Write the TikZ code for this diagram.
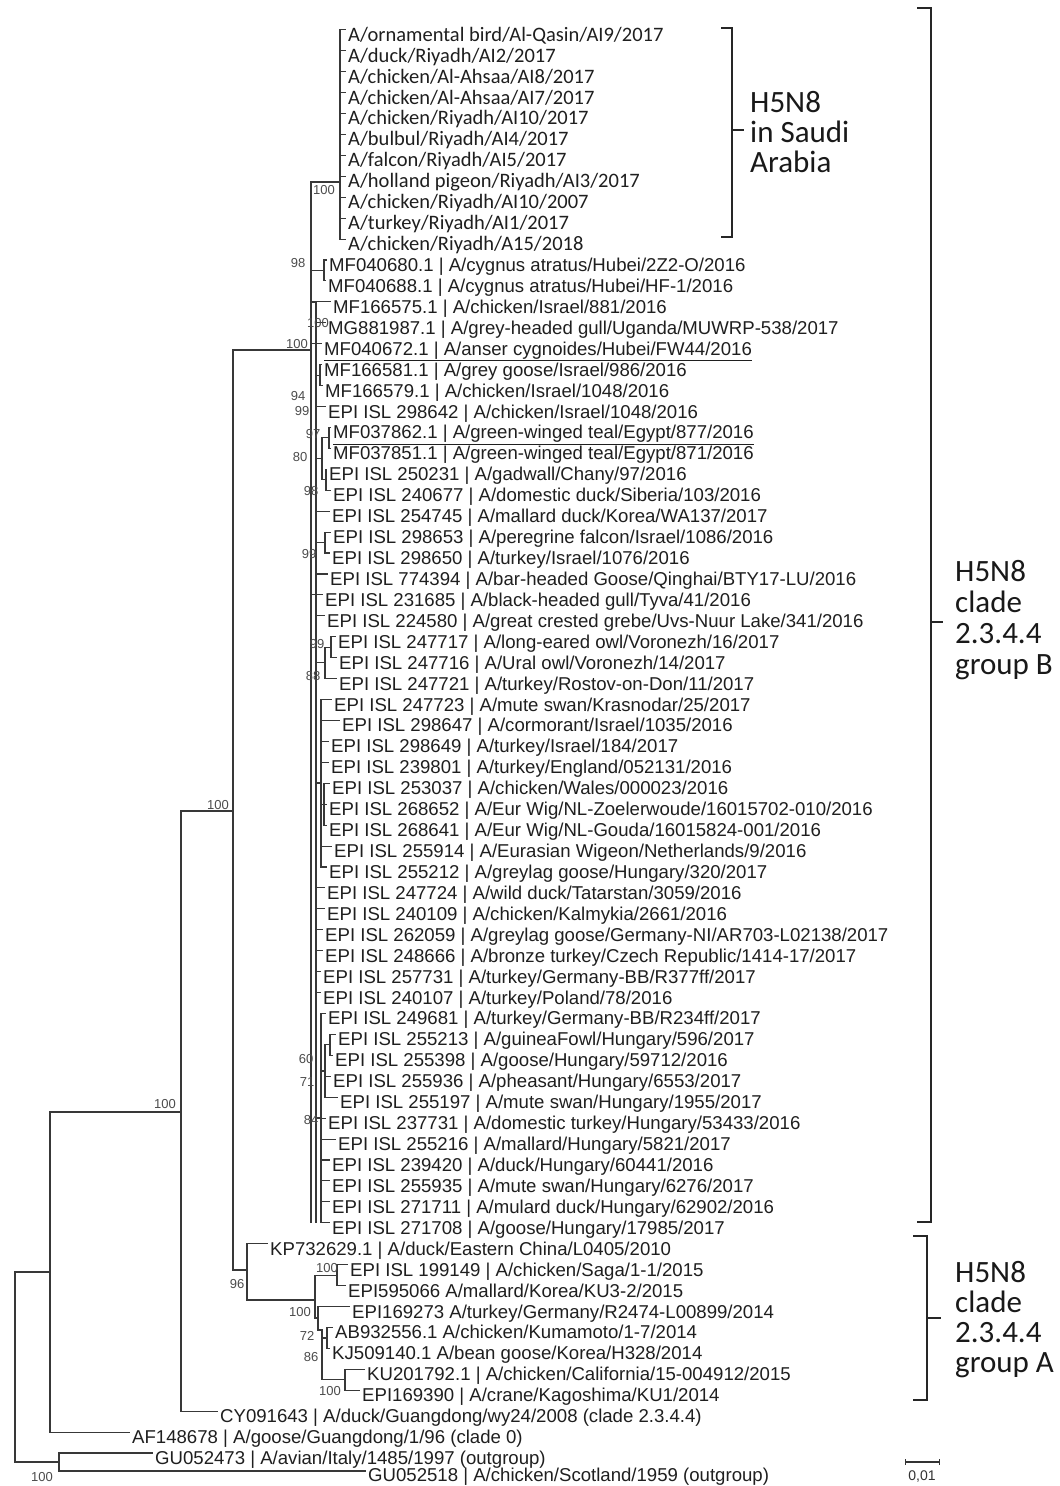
\documentclass[tikz,border=0pt]{standalone}
\usepackage{fontspec}
\setmainfont{Liberation Sans}
\newfontfamily\carl{Carlito}
\tikzset{
  br/.style={line width=1.1pt, draw=black!78, line cap=rect},
  tiplab/.style={anchor=base west, inner sep=0pt, font=\fontsize{18.6}{20}\selectfont, text=black!88},
  saudilab/.style={anchor=base west, inner sep=0pt, font=\carl\fontsize{20.5}{22}\selectfont, text=black!88},
  supp/.style={inner sep=0pt, font=\fontsize{13}{14}\selectfont, text=black!70},
  cladelab/.style={anchor=base west, inner sep=0pt, font=\carl\fontsize{31}{32}\selectfont, text=black!90},
  brk/.style={line width=1.5pt, draw=black!85},
}
% name, row, xtext, parent, text
\newcommand\tipB[5]{%
  \coordinate (#1l) at (#3-3,{260+20.93*(#2-1)});
  \node[tiplab] (#1) at (#3,{260+20.93*(#2-1)+11.5}) {#5};
  \draw[br] (#4 |- #1l) -- (#1l);
}
\newcommand\tipS[3]{%
  \coordinate (#1l) at (345,{260+20.93*(#2-1)});
  \node[saudilab] (#1) at (348,{260+20.93*(#2-1)+11.5}) {#3};
  \draw[br] (S |- #1l) -- (#1l);
}
\begin{document}
\begin{tikzpicture}[x=1pt,y=-1pt]
\useasboundingbox[fill=white] (0,0) rectangle (1060,1486);

% internal nodes
\coordinate (R) at (15,1367);
\coordinate (A) at (50,1272);
\coordinate (O) at (59,1462);
\coordinate (B) at (181,1112);
\coordinate (C) at (233,811);
\coordinate (V0) at (311,350);
\coordinate (V1) at (316,302);
\coordinate (S) at (340,182);
\coordinate (D) at (247,1270);
\coordinate (E) at (315,1300);
\coordinate (F) at (337,1275.2);
\coordinate (G) at (318,1318);
\coordinate (H) at (322,1330);
\coordinate (I) at (327,1338);
\coordinate (K) at (345,1379.8);
\coordinate (b1) at (324,270.5);
\coordinate (b2) at (320,375.2);
\coordinate (b3) at (329,437.9);
\coordinate (b4) at (322,458.8);
\coordinate (b5) at (326,479.8);
\coordinate (b6) at (325,542.6);
\coordinate (b7) at (331,647.2);
\coordinate (b8) at (325,662.9);
\coordinate (b9) at (321,783);
\coordinate (b10) at (324,804.2);
\coordinate (b11) at (330,1044.9);
\coordinate (b12) at (325,1071);
\coordinate (b13) at (321,1118);

% Saudi clade
\tipS{s1}{-10}{A/ornamental bird/Al-Qasin/AI9/2017}
\tipS{s2}{-9}{A/duck/Riyadh/AI2/2017}
\tipS{s3}{-8}{A/chicken/Al-Ahsaa/AI8/2017}
\tipS{s4}{-7}{A/chicken/Al-Ahsaa/AI7/2017}
\tipS{s5}{-6}{A/chicken/Riyadh/AI10/2017}
\tipS{s6}{-5}{A/bulbul/Riyadh/AI4/2017}
\tipS{s7}{-4}{A/falcon/Riyadh/AI5/2017}
\tipS{s8}{-3}{A/holland pigeon/Riyadh/AI3/2017}
\tipS{s9}{-2}{A/chicken/Riyadh/AI10/2007}
\tipS{s10}{-1}{A/turkey/Riyadh/AI1/2017}
\tipS{s11}{0}{A/chicken/Riyadh/A15/2018}

% group B tips
\tipB{t1}{1}{329}{b1}{MF040680.1 | A/cygnus atratus/Hubei/2Z2-O/2016}
\tipB{t2}{2}{328}{b1}{MF040688.1 | A/cygnus atratus/Hubei/HF-1/2016}
\tipB{t3}{3}{333}{V1}{MF166575.1 | A/chicken/Israel/881/2016}
\tipB{t4}{4}{328}{V1}{MG881987.1 | A/grey-headed gull/Uganda/MUWRP-538/2017}
\tipB{t5}{5}{324}{V0}{\underline{MF040672.1 | A/anser cygnoides/Hubei/FW44/2016}}
\tipB{t6}{6}{324}{b2}{MF166581.1 | A/grey goose/Israel/986/2016}
\tipB{t7}{7}{325}{b2}{MF166579.1 | A/chicken/Israel/1048/2016}
\tipB{t8}{8}{328}{V1}{EPI ISL 298642 | A/chicken/Israel/1048/2016}
\tipB{t9}{9}{333}{b3}{\underline{MF037862.1 | A/green-winged teal/Egypt/877/2016}}
\tipB{t10}{10}{333}{b3}{MF037851.1 | A/green-winged teal/Egypt/871/2016}
\tipB{t11}{11}{329}{b5}{EPI ISL 250231 | A/gadwall/Chany/97/2016}
\tipB{t12}{12}{333}{b5}{EPI ISL 240677 | A/domestic duck/Siberia/103/2016}
\tipB{t13}{13}{332}{V1}{EPI ISL 254745 | A/mallard duck/Korea/WA137/2017}
\tipB{t14}{14}{333}{b6}{EPI ISL 298653 | A/peregrine falcon/Israel/1086/2016}
\tipB{t15}{15}{332}{b6}{EPI ISL 298650 | A/turkey/Israel/1076/2016}
\tipB{t16}{16}{330}{V1}{EPI ISL 774394 | A/bar-headed Goose/Qinghai/BTY17-LU/2016}
\tipB{t17}{17}{325}{V0}{EPI ISL 231685 | A/black-headed gull/Tyva/41/2016}
\tipB{t18}{18}{327}{V1}{EPI ISL 224580 | A/great crested grebe/Uvs-Nuur Lake/341/2016}
\tipB{t19}{19}{338}{b7}{EPI ISL 247717 | A/long-eared owl/Voronezh/16/2017}
\tipB{t20}{20}{339}{b7}{EPI ISL 247716 | A/Ural owl/Voronezh/14/2017}
\tipB{t21}{21}{339}{b8}{EPI ISL 247721 | A/turkey/Rostov-on-Don/11/2017}
\tipB{t22}{22}{334}{b9}{EPI ISL 247723 | A/mute swan/Krasnodar/25/2017}
\tipB{t23}{23}{342}{b9}{EPI ISL 298647 | A/cormorant/Israel/1035/2016}
\tipB{t24}{24}{331}{b9}{EPI ISL 298649 | A/turkey/Israel/184/2017}
\tipB{t25}{25}{331}{b9}{EPI ISL 239801 | A/turkey/England/052131/2016}
\tipB{t26}{26}{332}{b10}{EPI ISL 253037 | A/chicken/Wales/000023/2016}
\tipB{t27}{27}{329}{b10}{EPI ISL 268652 | A/Eur Wig/NL-Zoelerwoude/16015702-010/2016}
\tipB{t28}{28}{329}{b10}{EPI ISL 268641 | A/Eur Wig/NL-Gouda/16015824-001/2016}
\tipB{t29}{29}{334}{b9}{EPI ISL 255914 | A/Eurasian Wigeon/Netherlands/9/2016}
\tipB{t30}{30}{329}{b9}{EPI ISL 255212 | A/greylag goose/Hungary/320/2017}
\tipB{t31}{31}{327}{V1}{EPI ISL 247724 | A/wild duck/Tatarstan/3059/2016}
\tipB{t32}{32}{327}{V1}{EPI ISL 240109 | A/chicken/Kalmykia/2661/2016}
\tipB{t33}{33}{325}{V1}{EPI ISL 262059 | A/greylag goose/Germany-NI/AR703-L02138/2017}
\tipB{t34}{34}{325}{V1}{EPI ISL 248666 | A/bronze turkey/Czech Republic/1414-17/2017}
\tipB{t35}{35}{323}{V1}{EPI ISL 257731 | A/turkey/Germany-BB/R377ff/2017}
\tipB{t36}{36}{323}{V1}{EPI ISL 240107 | A/turkey/Poland/78/2016}
\tipB{t37}{37}{328}{b13}{EPI ISL 249681 | A/turkey/Germany-BB/R234ff/2017}
\tipB{t38}{38}{338}{b11}{EPI ISL 255213 | A/guineaFowl/Hungary/596/2017}
\tipB{t39}{39}{335}{b11}{EPI ISL 255398 | A/goose/Hungary/59712/2016}
\tipB{t40}{40}{333}{b12}{EPI ISL 255936 | A/pheasant/Hungary/6553/2017}
\tipB{t41}{41}{340}{b12}{EPI ISL 255197 | A/mute swan/Hungary/1955/2017}
\tipB{t42}{42}{328}{b13}{EPI ISL 237731 | A/domestic turkey/Hungary/53433/2016}
\tipB{t43}{43}{338}{b13}{EPI ISL 255216 | A/mallard/Hungary/5821/2017}
\tipB{t44}{44}{332}{b13}{EPI ISL 239420 | A/duck/Hungary/60441/2016}
\tipB{t45}{45}{332}{b13}{EPI ISL 255935 | A/mute swan/Hungary/6276/2017}
\tipB{t46}{46}{332}{b13}{EPI ISL 271711 | A/mulard duck/Hungary/62902/2016}
\tipB{t47}{47}{332}{b13}{EPI ISL 271708 | A/goose/Hungary/17985/2017}

% group A and outgroups
\tipB{t48}{48}{270}{D}{KP732629.1 | A/duck/Eastern China/L0405/2010}
\tipB{t49}{49}{350}{F}{EPI ISL 199149 | A/chicken/Saga/1-1/2015}
\tipB{t50}{50}{348}{F}{EPI595066 A/mallard/Korea/KU3-2/2015}
\tipB{t51}{51}{352}{G}{EPI169273 A/turkey/Germany/R2474-L00899/2014}
\tipB{t52}{52}{335}{I}{AB932556.1 A/chicken/Kumamoto/1-7/2014}
\tipB{t53}{53}{332}{I}{KJ509140.1 A/bean goose/Korea/H328/2014}
\tipB{t54}{54}{367}{K}{KU201792.1 | A/chicken/California/15-004912/2015}
\tipB{t55}{55}{362}{K}{EPI169390 | A/crane/Kagoshima/KU1/2014}
\tipB{t56}{56}{220}{B}{CY091643 | A/duck/Guangdong/wy24/2008 (clade 2.3.4.4)}
\tipB{t57}{57}{132}{A}{AF148678 | A/goose/Guangdong/1/96 (clade 0)}
\tipB{t58}{58}{155}{O}{GU052473 | A/avian/Italy/1485/1997 (outgroup)}
% last row, set a little higher so that it is not cut at the page edge
\coordinate (t59l) at (365,1471);
\node[tiplab] (t59) at (368,1481) {GU052518 | A/chicken/Scotland/1959 (outgroup)};
\draw[br] (O |- t59l) -- (t59l);

% backbone
\draw[br] (R |- A) -- (R |- O);
\draw[br] (R |- A) -- (A);
\draw[br] (R |- O) -- (O);
\draw[br] (O |- t58l) -- (O |- t59l);
\draw[br] (A |- B) -- (A |- t57l);
\draw[br] (A |- B) -- (B);
\draw[br] (B |- C) -- (B |- t56l);
\draw[br] (B |- C) -- (C);
\draw[br] (C |- V0) -- (C |- D);
\draw[br] (C |- V0) -- (V0);
\draw[br] (C |- D) -- (D);
% group A
\draw[br] (D |- t48l) -- (D |- E);
\draw[br] (D |- E) -- (E);
\draw[br] (E |- F) -- (E |- G);
\draw[br] (E |- F) -- (F);
\draw[br] (E |- G) -- (G);
\draw[br] (F |- t49l) -- (F |- t50l);
\draw[br] (G |- t51l) -- (G |- H);
\draw[br] (G |- H) -- (H);
\draw[br] (H) -- (H |- K);
\draw[br] (H |- I) -- (I);
\draw[br] (H |- K) -- (K);
\draw[br] (I |- t52l) -- (I |- t53l);
\draw[br] (K |- t54l) -- (K |- t55l);
% group B
\draw[br] (V0 |- S) -- (V0 |- t47l);
\draw[br] (V0 |- S) -- (S);
\draw[br] (S |- s1l) -- (S |- s11l);
\draw[br] (V0 |- V1) -- (V1);
\draw[br] (V1) -- (V1 |- t47l);
\draw[br] (V0 |- b1) -- (b1);
\draw[br] (b1 |- t1l) -- (b1 |- t2l);
\draw[br] (V1 |- b2) -- (b2);
\draw[br] (b2 |- t6l) -- (b2 |- t7l);
\draw[br] (V1 |- b4) -- (b4);
\draw[br] (b4 |- b3) -- (b4 |- b5);
\draw[br] (b4 |- b3) -- (b3);
\draw[br] (b4 |- b5) -- (b5);
\draw[br] (b3 |- t9l) -- (b3 |- t10l);
\draw[br] (b5 |- t11l) -- (b5 |- t12l);
\draw[br] (V1 |- b6) -- (b6);
\draw[br] (b6 |- t14l) -- (b6 |- t15l);
\draw[br] (V1 |- b8) -- (b8);
\draw[br] (b8 |- b7) -- (b8 |- t21l);
\draw[br] (b8 |- b7) -- (b7);
\draw[br] (b7 |- t19l) -- (b7 |- t20l);
\draw[br] (V1 |- b9) -- (b9);
\draw[br] (b9 |- t22l) -- (b9 |- t30l);
\draw[br] (b9 |- b10) -- (b10);
\draw[br] (b10 |- t26l) -- (b10 |- t28l);
\draw[br] (V1 |- b13) -- (b13);
\draw[br] (b13 |- t37l) -- (b13 |- t47l);
\draw[br] (b13 |- b12) -- (b12);
\draw[br] (b12 |- b11) -- (b12 |- t41l);
\draw[br] (b12 |- b11) -- (b11);
\draw[br] (b11 |- t38l) -- (b11 |- t39l);

% support values
\node[supp] (p1) at (218,805) {100};
\node[supp] (p2) at (165,1104) {100};
\node[supp] (p3) at (297,344) {100};
\node[supp] (p4) at (42,1477) {100};
\node[supp] (p5) at (237,1284) {96};
\node[supp] (p6) at (324,190) {100};
\node[supp] (p7) at (298,263) {98};
\node[supp] (p8) at (318,323) {100};
\node[supp] (p9) at (298,396) {94};
\node[supp] (p10) at (302,411) {99};
\node[supp] (p11) at (313,434) {97};
\node[supp] (p12) at (300,457) {80};
\node[supp] (p13) at (311,491) {98};
\node[supp] (p14) at (309,554) {99};
\node[supp] (p15) at (317,644) {99};
\node[supp] (p16) at (313,676) {88};
\node[supp] (p17) at (306,1059) {60};
\node[supp] (p18) at (307,1082) {71};
\node[supp] (p19) at (311,1120) {84};
\node[supp] (p20) at (327,1268) {100};
\node[supp] (p21) at (300,1312) {100};
\node[supp] (p22) at (307,1336) {72};
\node[supp] (p23) at (311,1357) {86};
\node[supp] (p24) at (330,1391) {100};

% brackets
\coordinate (saT) at (721,28);
\coordinate (saB) at (721,237);
\coordinate (saM) at (744,130);
\draw[brk] (saT) -- (732,28) -- (732,237) -- (saB);
\draw[brk] (732,130) -- (saM);
\node[cladelab] (sa1) at (750,112) {H5N8};
\node[cladelab] (sa2) at (750,142) {in Saudi};
\node[cladelab] (sa3) at (750,172) {Arabia};

\coordinate (gbT) at (917,8);
\coordinate (gbB) at (917,1222);
\coordinate (gbM) at (943,622);
\draw[brk] (gbT) -- (931,8) -- (931,1222) -- (gbB);
\draw[brk] (931,622) -- (gbM);
\node[cladelab] (gb1) at (955,581) {H5N8};
\node[cladelab] (gb2) at (955,612) {clade};
\node[cladelab] (gb3) at (955,643) {2.3.4.4};
\node[cladelab] (gb4) at (955,674) {group B};

\coordinate (gaT) at (913,1236);
\coordinate (gaB) at (913,1400);
\coordinate (gaM) at (941,1318);
\draw[brk] (gaT) -- (927,1236) -- (927,1400) -- (gaB);
\draw[brk] (927,1318) -- (gaM);
\node[cladelab] (ga1) at (955,1282) {H5N8};
\node[cladelab] (ga2) at (955,1312) {clade};
\node[cladelab] (ga3) at (955,1342) {2.3.4.4};
\node[cladelab] (ga4) at (955,1372) {group A};

% scale bar
\coordinate (sbL) at (905,1462);
\coordinate (sbR) at (939,1462);
\draw[line width=1.2pt, black!80] (sbL) -- (sbR);
\draw[line width=1pt, black!80] ([yshift=3pt]sbL) -- ([yshift=-3pt]sbL);
\draw[line width=1pt, black!80] ([yshift=3pt]sbR) -- ([yshift=-3pt]sbR);
\node[supp, font=\fontsize{14}{15}\selectfont, text=black!80] (sbt) at (922,1476) {0,01};
\end{tikzpicture}
\end{document}
